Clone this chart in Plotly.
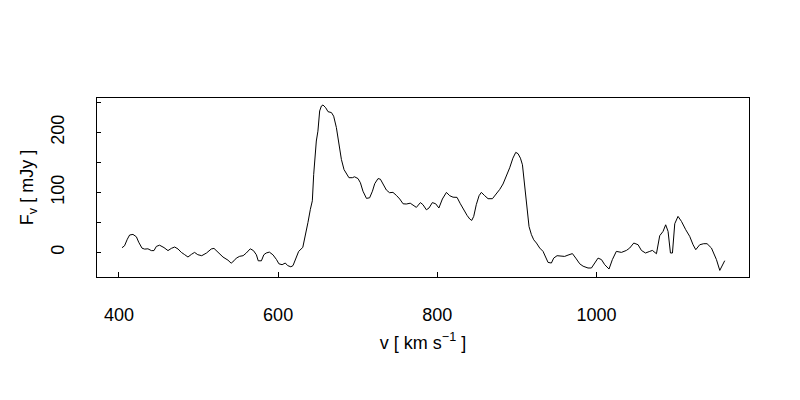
import plotly.graph_objects as go

velocity = [403.8, 407, 410.5, 413.4, 417.6, 421.9, 424.8, 429, 432.3, 436.4, 440.7, 444, 447, 451, 456.6,
            461.6, 465.8, 470, 474.2, 478.4, 482.6, 486.7, 491, 495, 499, 504, 510, 516, 519.4, 524.4,
            530.7, 537, 541, 544.5, 547.5, 551.7, 556, 560, 565, 569, 572.7, 575, 579, 582, 585, 589,
            593.5, 598, 601, 605, 609, 612, 616, 618.7, 622, 625.8, 631, 634.6, 637.5, 640.5, 643,
            644.7, 646, 648, 650, 652.2, 654.4, 656.4, 659.8, 662.7, 667, 669.8, 673.2, 676.5, 679.5,
            682.8, 685.8, 689, 693.3, 696, 700.4, 703.4, 706.6, 711, 715, 718.5, 721.4, 725.5, 728.5,
            731.8, 736, 740, 744.3, 748.6, 752.8, 757, 761, 766, 770.4, 773.7, 778.8, 782, 786.3,
            789.6, 793.8, 798, 802, 806.4, 811.5, 815.6, 819.8, 824.8, 829, 833, 837.4, 840.8, 843.3,
            845.8, 849, 852.5, 855.4, 859.6, 863.8, 869.3, 874.3, 878.5, 882.6, 887, 891, 895, 898.6,
            901.5, 904.5, 907, 908.6, 910.8, 912.8, 915.3, 918.3, 921.2, 924.6, 928.7, 932.9, 936.4,
            939.2, 943.4, 946.3, 950.5, 956, 960, 964.3, 969.8, 974, 979, 983.2, 989.4, 993.7, 997.8,
            1002, 1006.3, 1010.4, 1015.8, 1020, 1025, 1031.4, 1037.7, 1041.8, 1046.9, 1052.3, 1056.5,
            1061.6, 1067, 1070.3, 1075.4, 1079.5, 1083.7, 1087, 1090, 1093, 1095.5, 1098.4, 1102.5,
            1106.8, 1112.2, 1117.2, 1121.4, 1124.8, 1129.8, 1134.8, 1139, 1144.5, 1150.8, 1155, 1161.2]
flux = [7.8, 11, 22, 29, 30, 26, 17, 7, 5.5, 6, 3, 3, 10, 12, 8,
        3, 6.7, 9, 5.7, 0, -3.8, -7.7, -3.3, 0, -3.8, -5.5, -1, 5.7, 6.7, 1,
        -7.7, -13, -18, -14, -9.5, -6.5, -5.5, -1, 6, 3, -4, -14, -14, -4, -1, 0.5,
        -4, -12, -19, -20.5, -17.7, -22, -24, -22, -12, 1.7, 8.3, 30, 50, 71.7, 86,
        130, 158, 185.6, 202, 235.7, 244, 245.7, 241, 234.5, 233, 227, 208, 180, 155,
        138, 131, 124.5, 124.5, 126, 123, 116, 102, 90, 91, 102, 114.5, 123, 122,
        114.5, 104, 99.5, 100, 95, 89, 81, 80.6, 82, 78, 75, 83, 79.5, 71,
        74, 83, 81, 74, 89, 100, 94.5, 92, 91.7, 81, 71, 61.7, 55.6, 53.3,
        60, 79.5, 94.5, 100, 94.5, 89.5, 89.5, 97.8, 105, 114, 127, 141, 157, 166.7,
        164.5, 157, 146, 126.7, 99, 71, 43, 29.5, 21, 15.6, 7.3, 1.7, -9.5,
        -16.7, -17.7, -9.5, -5.5, -5.5, -6.7, -4.5, -2, -9.5, -19, -23, -26, -26, -17.7,
        -9.5, -12, -20.5, -27.7, -12, 1.7, 0, 3.3, 7.3, 15.6, 12.8, 3.3,
        -1, 1.7, 3.3, -2.2, 27.8, 35, 46, 35, -1, -1, 47.8, 60,
        51.7, 37.8, 26.7, 12.8, 4.5, 12.8, 14.5, 14.5, 7.3, -12, -30, -13.8]

x_ticks = [400, 600, 800, 1000]
y_ticks = [0, 100, 200]
y_minor_step = 50

font = dict(family="Liberation Sans, Arial, sans-serif", size=18, color="black")

fig = go.Figure(go.Scatter(x=velocity, y=flux, mode="lines",
                           line=dict(color="black", width=1), hoverinfo="skip"))

fig.update_layout(
    width=800, height=400,
    margin=dict(l=89, r=59, t=90, b=131),
    paper_bgcolor="white", plot_bgcolor="white",
    showlegend=False, font=font,
)
fig.update_xaxes(
    range=[372.4, 1191.7], tickvals=x_ticks, ticks="inside", ticklen=5,
    tickcolor="black", showline=True, linecolor="black", linewidth=1, mirror=True,
    showgrid=False, zeroline=False, automargin=False, ticklabelstandoff=21,
    title=dict(text="v [ km s<sup>−1</sup> ]", font=font, standoff=12),
)
fig.update_yaxes(
    range=[-41, 257.3], tickvals=y_ticks, ticks="inside", ticklen=4,
    minor=dict(ticks="inside", ticklen=4, tick0=0, dtick=y_minor_step, tickcolor="black", showgrid=False),
    tickcolor="black", showline=True, linecolor="black", linewidth=1, mirror=True,
    showgrid=False, zeroline=False, automargin=False, tickangle=-90, ticklabelstandoff=25,
    title=dict(text="F<sub>v</sub> [ mJy ]", font=font, standoff=9),
)

fig.write_html("out.html")
